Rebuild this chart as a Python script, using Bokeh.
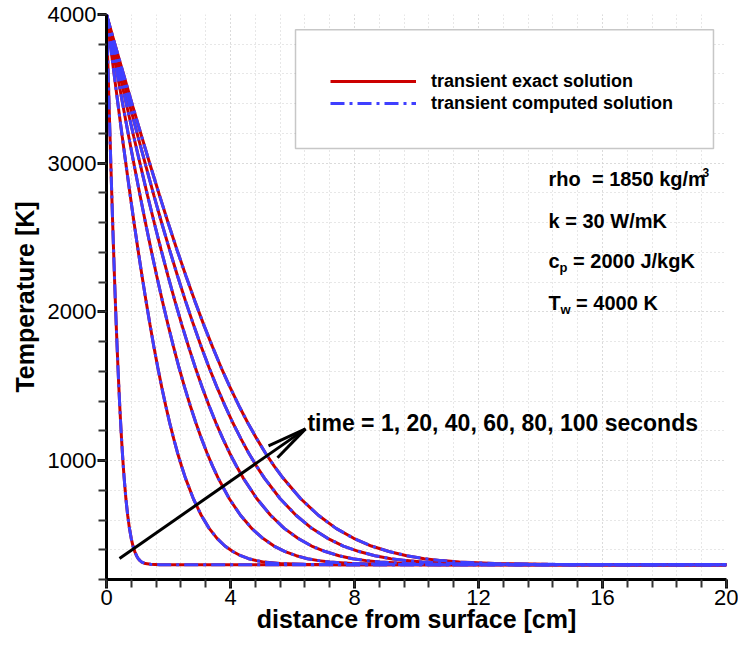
from bokeh.plotting import figure
from bokeh.models import (FixedTicker, Range1d, Legend, LegendItem, Label,
                          BoxAnnotation)
from bokeh.embed import file_html
from bokeh.resources import INLINE

# ---------------- data ----------------
times_s = [1, 20, 40, 60, 80, 100]

# temperature levels [K] shared by every profile
temperature = [4000, 3791, 3584, 3378, 3176, 2978, 2784, 2596, 2415, 2241,
               2074, 1916, 1766, 1624, 1492, 1369, 1254, 1149, 1051, 963,
               882, 743, 632, 544, 477, 425, 388, 360, 340, 327,
               317, 307, 302, 300, 300]

# distance [cm] at which each profile reaches the levels above
dist_t1 = [0, 0.028, 0.057, 0.085, 0.114, 0.142, 0.171, 0.199, 0.228, 0.256,
           0.285, 0.313, 0.342, 0.370, 0.399, 0.427, 0.456, 0.484, 0.513, 0.541,
           0.570, 0.626, 0.683, 0.740, 0.797, 0.854, 0.911, 0.968, 1.025, 1.082,
           1.139, 1.253, 1.424, 1.709, 20]
dist_t20 = [0, 0.127, 0.255, 0.382, 0.509, 0.637, 0.764, 0.891, 1.019, 1.146,
            1.274, 1.401, 1.528, 1.656, 1.783, 1.910, 2.038, 2.165, 2.292, 2.420,
            2.547, 2.802, 3.056, 3.311, 3.566, 3.821, 4.075, 4.330, 4.585, 4.839,
            5.094, 5.603, 6.368, 7.641, 20]
dist_t40 = [0, 0.180, 0.360, 0.540, 0.720, 0.901, 1.081, 1.261, 1.441, 1.621,
            1.801, 1.981, 2.161, 2.341, 2.521, 2.702, 2.882, 3.062, 3.242, 3.422,
            3.602, 3.962, 4.322, 4.683, 5.043, 5.403, 5.763, 6.123, 6.484, 6.844,
            7.204, 7.924, 9.005, 10.806, 20]
dist_t60 = [0, 0.221, 0.441, 0.662, 0.882, 1.103, 1.323, 1.544, 1.764, 1.985,
            2.206, 2.426, 2.647, 2.867, 3.088, 3.308, 3.529, 3.749, 3.970, 4.190,
            4.411, 4.852, 5.293, 5.734, 6.175, 6.617, 7.058, 7.499, 7.940, 8.381,
            8.822, 9.704, 11.028, 13.233, 20]
dist_t80 = [0, 0.255, 0.509, 0.764, 1.019, 1.274, 1.528, 1.783, 2.038, 2.292,
            2.547, 2.802, 3.056, 3.311, 3.566, 3.821, 4.075, 4.330, 4.585, 4.839,
            5.094, 5.603, 6.113, 6.622, 7.132, 7.641, 8.150, 8.660, 9.169, 9.679,
            10.188, 11.207, 12.735, 15.282, 20]
dist_t100 = [0, 0.285, 0.570, 0.854, 1.139, 1.424, 1.709, 1.993, 2.278, 2.563,
             2.848, 3.132, 3.417, 3.702, 3.987, 4.271, 4.556, 4.841, 5.126, 5.410,
             5.695, 6.265, 6.834, 7.404, 7.973, 8.543, 9.112, 9.682, 10.251, 10.821,
             11.390, 12.529, 14.238, 17.085, 20]

profiles = [dist_t1, dist_t20, dist_t40, dist_t60, dist_t80, dist_t100]

x_major_ticks = [0, 4, 8, 12, 16, 20]
y_major_ticks = [1000, 2000, 3000, 4000]

RED = "#cc0000"
BLUE = "#3f3fff"
FONT = "Liberation Sans"
NBSP = "\u00a0"

p = figure(width=738, height=645, output_backend="svg", toolbar_location=None,
           x_range=Range1d(0, 20), y_range=Range1d(200, 4000),
           min_border_left=106, min_border_right=12, min_border_top=14,
           min_border_bottom=66)
p.outline_line_color = None
p.background_fill_color = "white"
p.border_fill_color = "white"

# ticks / grid
xt = FixedTicker(ticks=x_major_ticks, minor_ticks=[0.8 * i for i in range(26)])
yt = FixedTicker(ticks=y_major_ticks, minor_ticks=[200 * i for i in range(1, 21)])
p.xaxis.ticker = xt
p.yaxis.ticker = yt
p.xgrid.ticker = xt
p.ygrid.ticker = yt
for g in (p.xgrid, p.ygrid):
    g.grid_line_color = "#cfcfcf"
    g.grid_line_dash = "1 3"
    g.grid_line_width = 1
    g.minor_grid_line_color = "#cfcfcf"
    g.minor_grid_line_dash = "1 3"
    g.minor_grid_line_width = 1

for ax in (p.xaxis, p.yaxis):
    ax.axis_line_width = 3
    ax.axis_line_color = "black"
    ax.major_tick_line_width = 3
    ax.major_tick_in = 0
    ax.major_tick_out = 9
    ax.minor_tick_line_width = 2
    ax.minor_tick_line_color = "#333333"
    ax.minor_tick_in = 0
    ax.minor_tick_out = 8
    ax.major_label_text_font = FONT
    ax.major_label_text_font_size = "22px"
    ax.major_label_text_color = "black"
    ax.major_label_standoff = 1
    ax.axis_label_text_font = FONT
    ax.axis_label_text_font_size = "25px"
    ax.axis_label_text_font_style = "bold"
    ax.axis_label_text_color = "black"
p.yaxis.axis_label_standoff = 6
p.xaxis.axis_label_standoff = -3

p.xaxis.axis_label = "distance from surface [cm]"
p.yaxis.axis_label = "Temperature [K]"

# curves
red_rs, blue_rs = [], []
for d in profiles:
    red_rs.append(p.line(d, temperature, line_color=RED, line_width=3))
for d in profiles:
    blue_rs.append(p.line(d, temperature, line_color=BLUE, line_width=3,
                          line_dash="14 5 3 5"))

# legend box
box = BoxAnnotation(left=6.097, right=19.58, bottom=3099, top=3898,
                    fill_color="white", fill_alpha=1.0,
                    line_color="#444444", line_width=1.5, level="annotation")
p.add_layout(box)

legend = Legend(items=[LegendItem(label="transient exact solution", renderers=[red_rs[0]]),
                       LegendItem(label="transient computed solution", renderers=[blue_rs[0]])],
                location=(224, 465), padding=0, margin=0, spacing=0,
                glyph_width=86, glyph_height=22, label_height=22,
                label_standoff=15,
                label_text_font=FONT, label_text_font_size="18px",
                label_text_font_style="bold", label_text_color="black",
                border_line_color=None, background_fill_alpha=0.0)
p.add_layout(legend)

# property annotations
info_x = 14.26


def lab(text, y, size="20px", xo=0, yo=0):
    p.add_layout(Label(x=info_x, y=y, text=text, x_offset=xo, y_offset=yo,
                       text_font=FONT, text_font_size=size, text_font_style="bold",
                       text_color="black", text_baseline="middle"))


lab("rho" + NBSP + " = 1850 kg/m", 2891)
lab("3", 2891, size="12px", xo=154, yo=7)
lab("k = 30 W/mK", 2609)
lab("c", 2341)
lab("p", 2341, size="13px", xo=11, yo=-6)
lab(NBSP + "= 2000 J/kgK", 2341, xo=19)
lab("T", 2059)
lab("w", 2059, size="13px", xo=12, yo=-6)
lab(NBSP + "= 4000 K", 2059, xo=22)

# time arrow
p.segment(x0=[0.42, 6.42, 6.42], y0=[341, 1213, 1213],
          x1=[6.42, 5.226, 5.516], y1=[1213, 1099, 1019],
          line_color="black", line_width=3)
p.add_layout(Label(x=6.48, y=1254,
                   text="time = " + ", ".join(str(t) for t in times_s) + " seconds",
                   text_font=FONT, text_font_size="23px", text_font_style="bold",
                   text_color="black", text_baseline="middle"))

open("out.html", "w").write(file_html(p, INLINE))
